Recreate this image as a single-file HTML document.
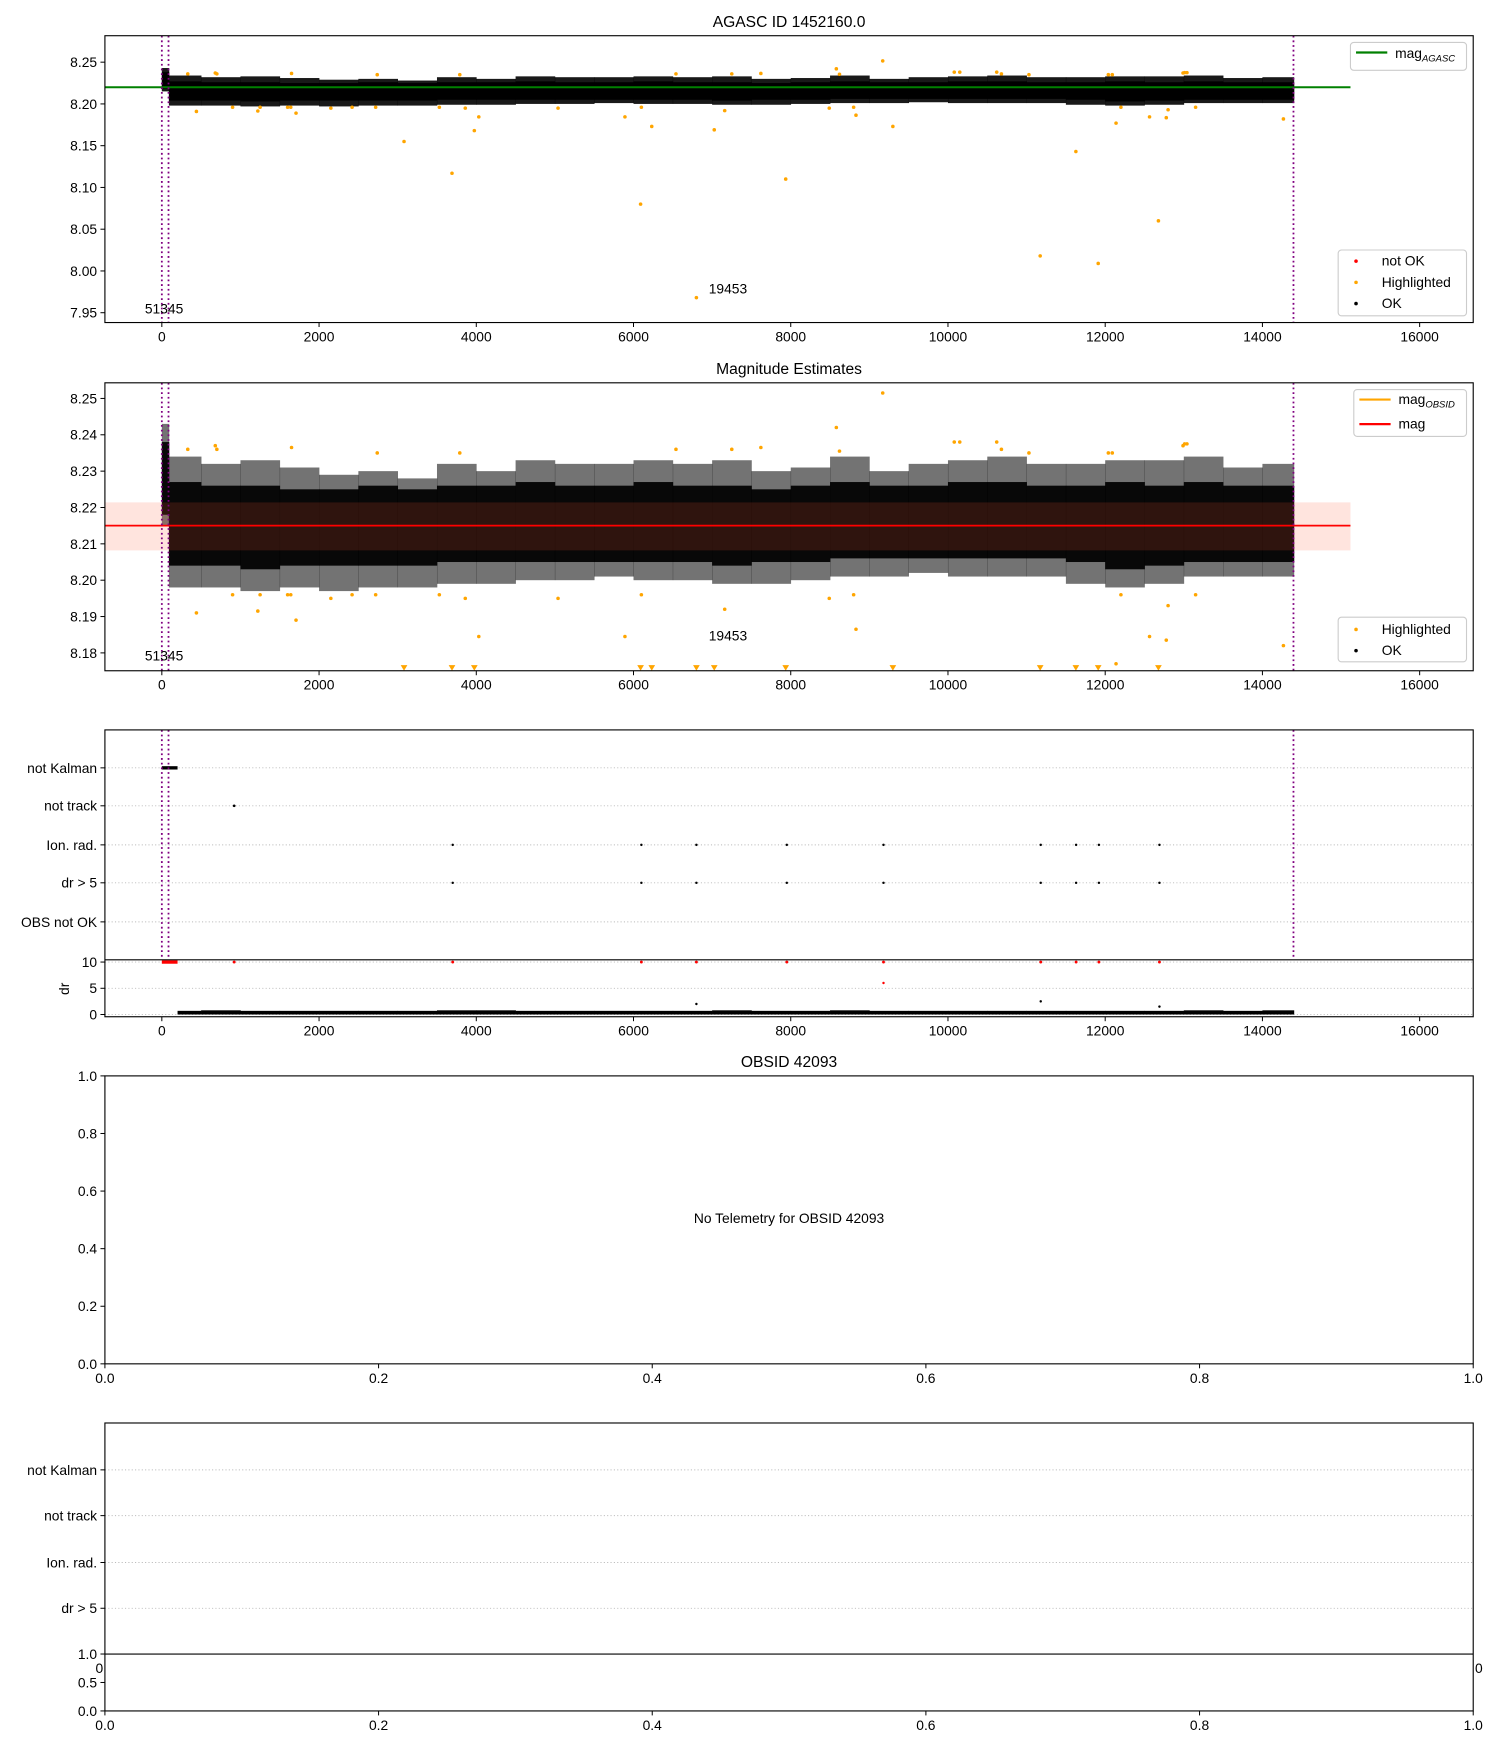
<!DOCTYPE html>
<html><head><meta charset="utf-8"><title>AGASC ID 1452160.0</title>
<style>
html,body{margin:0;padding:0;background:#fff;}
svg{display:block;font-family:"Liberation Sans","DejaVu Sans",sans-serif;}
</style></head>
<body>
<svg id="fig" width="1500" height="1750" viewBox="0 0 1344 1568" preserveAspectRatio="none" xmlns="http://www.w3.org/2000/svg">
<defs>
<clipPath id="c1"><rect x="94" y="32" width="1226" height="257"/></clipPath>
<clipPath id="c2"><rect x="94" y="343" width="1226" height="258"/></clipPath>
<clipPath id="c3"><rect x="94" y="654" width="1226" height="206"/></clipPath>
<clipPath id="c3b"><rect x="94" y="860" width="1226" height="51"/></clipPath>
</defs>
<g id="root"></g>
</svg>
<script>
// ---- data ----
const binX = [0,90,500,1000,1500,2000,2500,3000,3500,4000,4500,5000,5500,6000,6500,7000,7500,8000,8500,9000,9500,10000,10500,11000,11500,12000,12500,13000,13500,14000];
const binEndLast = 14400;
const hiOuter = [8.243,8.234,8.232,8.233,8.231,8.229,8.230,8.228,8.232,8.230,8.233,8.232,8.232,8.233,8.232,8.233,8.230,8.231,8.234,8.230,8.232,8.233,8.234,8.232,8.232,8.233,8.233,8.234,8.231,8.232];
const loOuter = [8.215,8.198,8.198,8.197,8.198,8.197,8.198,8.198,8.199,8.199,8.200,8.200,8.201,8.200,8.200,8.199,8.199,8.200,8.201,8.201,8.202,8.201,8.201,8.201,8.199,8.198,8.199,8.201,8.201,8.201];
const hiCore = [8.238,8.227,8.226,8.226,8.225,8.225,8.226,8.225,8.226,8.226,8.227,8.226,8.226,8.227,8.226,8.226,8.225,8.226,8.227,8.226,8.226,8.227,8.227,8.226,8.226,8.227,8.226,8.227,8.226,8.226];
const loCore = [8.218,8.204,8.204,8.203,8.204,8.204,8.204,8.204,8.205,8.205,8.205,8.205,8.205,8.205,8.205,8.204,8.205,8.205,8.206,8.206,8.206,8.206,8.206,8.206,8.205,8.203,8.204,8.205,8.205,8.205];
const drHi = [0.6,0.7,0.8,0.7,0.7,0.7,0.7,0.7,0.8,0.8,0.7,0.7,0.7,0.7,0.7,0.8,0.7,0.7,0.8,0.7,0.7,0.7,0.7,0.7,0.7,0.7,0.7,0.8,0.7,0.8];
const hlX = [440,1221,1707,3081,3691,3975,4032,5891,6090,6232,6800,7027,7936,8830,9170,9299,11173,11627,11911,12138,12564,12677,12777,14267,
 330,680,700,1650,2740,3790,6540,7250,7620,8580,8620,10080,10150,10620,10680,11030,12040,12090,12990,13010,13040,
 900,1250,1600,1640,2150,2420,2720,3530,3860,5040,6100,7160,8490,8800,12200,12800,13150];
const hlMag = [8.191,8.1915,8.189,8.155,8.117,8.168,8.1845,8.1845,8.080,8.173,7.968,8.169,8.110,8.1865,8.2515,8.173,8.018,8.143,8.009,8.177,8.1845,8.060,8.1835,8.182,
 8.236,8.237,8.236,8.2365,8.235,8.235,8.236,8.236,8.2365,8.242,8.2355,8.238,8.238,8.238,8.236,8.235,8.235,8.235,8.237,8.2375,8.2375,
 8.196,8.196,8.196,8.196,8.195,8.196,8.196,8.196,8.195,8.195,8.196,8.192,8.195,8.196,8.196,8.193,8.196];
const magAgasc = 8.22;
const magMean = 8.2150;
const magBand = [8.2082, 8.2214];
const lineEnd = 15120;
const obsBounds = [0, 85, 14395];
const flagCats = ["not Kalman","not track","Ion. rad.","dr > 5","OBS not OK"];
const flagCats2 = ["not Kalman","not track","Ion. rad.","dr > 5"];
const kalmanRange = [0, 200];
const notTrackX = [920];
const ionX = [3700,6100,6800,7950,9180,11180,11630,11920,12690];
const drBigX = [3700,6100,6800,7950,9180,11180,11630,11920,12690];
const drOutX = [6800,9180,11180,12690];
const drOutV = [2.0,6.0,2.5,1.5];
const xTicks = [0,2000,4000,6000,8000,10000,12000,14000,16000];
const y1Ticks = [7.95,8.00,8.05,8.10,8.15,8.20,8.25];
const y2Ticks = [8.18,8.19,8.20,8.21,8.22,8.23,8.24,8.25];
const unitTicks = [0.0,0.2,0.4,0.6,0.8,1.0];

// ---- scales ----
const L = 94, R = 1320;
const sx = v => 145 + v * 0.070438;
const sy1 = v => 55.7 + (8.25 - v) * 748.3;
const sy2 = v => 357 + (8.25 - v) * 3257;
const sdr = v => 909 - v * 4.7;
const FS = 12.4;
const NS = "http://www.w3.org/2000/svg";
const root = document.getElementById('root');
function mk(tag, attrs, parent, text) {
  const e = document.createElementNS(NS, tag);
  for (const k in attrs) e.setAttribute(k, attrs[k]);
  if (text !== undefined) e.textContent = text;
  (parent || root).appendChild(e);
  return e;
}
function binEnd(i){ return i + 1 < binX.length ? binX[i+1] : binEndLast; }

function frame(top, bot, name) {
  const f = mk('rect', {x:L, y:top, width:R-L, height:bot-top, fill:'none', stroke:'#000', 'stroke-width':1});
  
  
}
function xAxis(bot, ticks, fmt, scale, name) {
  const g = mk('g', {});
  
  
  ticks.forEach(t => {
    const x = scale(t);
    mk('line', {x1:x, x2:x, y1:bot, y2:bot+4, stroke:'#000', 'stroke-width':0.9}, g);
    const tx = mk('text', {x:x, y:bot+17, 'font-size':FS, 'text-anchor':'middle', fill:'#000'}, g, fmt(t));
    
    
  });
}
function yAxis(ticks, scale, fmt, name) {
  const g = mk('g', {});
  
  
  ticks.forEach(t => {
    const y = scale(t);
    mk('line', {x1:L-4, x2:L, y1:y, y2:y, stroke:'#000', 'stroke-width':0.9}, g);
    const tx = mk('text', {x:L-7, y:y+4.4, 'font-size':FS, 'text-anchor':'end', fill:'#000'}, g, fmt(t));
    
    
  });
}
function title(y, s, name) {
  const t = mk('text', {x:707, y:y, 'font-size':14, 'text-anchor':'middle', fill:'#000'}, root, s);
  
  
}
function vlines(clip, top, bot) {
  obsBounds.forEach(b => {
    const l = mk('line', {x1:sx(b), x2:sx(b), y1:top, y2:bot, stroke:'#800080', 'stroke-width':1.6, 'stroke-dasharray':'1.6,2.6', 'clip-path':clip});
    
    
  });
}
function cloud(sy, clip, outerOp, coreOp, name) {
  const g = mk('g', {'clip-path':clip});
  
  
  binX.forEach((b, i) => {
    const x0 = sx(b), x1 = sx(binEnd(i));
    const o = mk('rect', {x:x0, y:sy(hiOuter[i]), width:x1-x0+0.3, height:sy(loOuter[i])-sy(hiOuter[i]), fill:'#000', 'fill-opacity':outerOp}, g);
    
    
    const c = mk('rect', {x:x0, y:sy(hiCore[i]), width:x1-x0+0.3, height:sy(loCore[i])-sy(hiCore[i]), fill:'#000', 'fill-opacity':coreOp}, g);
    
    
  });
}
function highlighted(sy, clip, ymin, bot) {
  const g = mk('g', {'clip-path':clip});
  
  
  hlX.forEach((x, i) => {
    if (ymin !== null && hlMag[i] < ymin) {
      const px = sx(x);
      const p = mk('path', {d:`M${px-3},${bot-5}L${px+3},${bot-5}L${px},${bot}Z`, fill:'#ffa500'}, g);
      
      
    } else {
      const c = mk('circle', {cx:sx(x), cy:sy(hlMag[i]), r:1.6, fill:'#ffa500'}, g);
      
      
    }
  });
}
function legendBox(x, y, w, h, name) {
  const r = mk('rect', {x:x, y:y, width:w, height:h, rx:3, fill:'#fff', 'fill-opacity':0.85, stroke:'#ccc', 'stroke-width':1});
  
  
}
function legText(x, y, s, sub) {
  const t = mk('text', {x:x, y:y, 'font-size':FS, fill:'#000'}, root, s);
  if (sub) { mk('tspan', {'font-size':8.5, 'font-style':'italic', dy:3}, t, sub); }
  
  
}
function legDot(x, y, col) {
  const c = mk('circle', {cx:x, cy:y, r:1.6, fill:col});
  
  
}
function legLine(x, y, col) {
  const l = mk('line', {x1:x, x2:x+28, y1:y, y2:y, stroke:col, 'stroke-width':2});
  
  
}
function label(x, y, s, name, anchor) {
  const t = mk('text', {x:x, y:y, 'font-size':FS, 'text-anchor':anchor||'start', fill:'#000'}, root, s);
  
  
}

// ---- panel 1 ----
title(24, 'AGASC ID 1452160.0', 'panel1-title');
cloud(sy1, 'url(#c1)', 0.9, 1, 'panel1-ok-points');
highlighted(sy1, 'url(#c1)', null, 289);
const g1 = mk('line', {x1:sx(-724), x2:sx(lineEnd), y1:sy1(magAgasc), y2:sy1(magAgasc), stroke:'#008000', 'stroke-width':1.8, 'clip-path':'url(#c1)'});


vlines('url(#c1)', 32, 289);
label(147, 281, '51345', 'obsid-label', 'middle');
label(635, 263, '19453', 'obsid-label');
frame(32, 289, 'panel1-axes');
xAxis(289, xTicks, t => String(t), sx, 'panel1-x-axis');
yAxis(y1Ticks, sy1, t => t.toFixed(2), 'panel1-y-axis');
legendBox(1210, 38, 104, 25, 'panel1-legend-top');
legLine(1215, 47, '#008000'); legText(1250, 52, 'mag', 'AGASC');
legendBox(1199, 224, 115, 59, 'panel1-legend-bottom');
legDot(1215, 234, '#ff0000'); legText(1238, 238, 'not OK');
legDot(1215, 253, '#ffa500'); legText(1238, 257, 'Highlighted');
legDot(1215, 272, '#000'); legText(1238, 276, 'OK');

// ---- panel 2 ----
title(335, 'Magnitude Estimates', 'panel2-title');
cloud(sy2, 'url(#c2)', 0.55, 0.93, 'panel2-ok-points');
highlighted(sy2, 'url(#c2)', 8.1751, 601);
const band = mk('rect', {x:sx(-724), y:sy2(magBand[1]), width:sx(lineEnd)-sx(-724), height:sy2(magBand[0])-sy2(magBand[1]), fill:'#ff5a30', 'fill-opacity':0.16, 'clip-path':'url(#c2)'});


const rl = mk('line', {x1:sx(-724), x2:sx(lineEnd), y1:sy2(magMean), y2:sy2(magMean), stroke:'#ff0000', 'stroke-width':1.6, 'clip-path':'url(#c2)'});


vlines('url(#c2)', 343, 601);
label(147, 592, '51345', 'obsid-label', 'middle');
label(635, 574, '19453', 'obsid-label');
frame(343, 601, 'panel2-axes');
xAxis(601, xTicks, t => String(t), sx, 'panel2-x-axis');
yAxis(y2Ticks, sy2, t => t.toFixed(2), 'panel2-y-axis');
legendBox(1213, 349, 101, 42, 'panel2-legend-top');
legLine(1218, 358, '#ffa500'); legText(1253, 362, 'mag', 'OBSID');
legLine(1218, 380, '#ff0000'); legText(1253, 384, 'mag');
legendBox(1199, 553, 115, 40, 'panel2-legend-bottom');
legDot(1215, 564, '#ffa500'); legText(1238, 568, 'Highlighted');
legDot(1215, 583, '#000'); legText(1238, 587, 'OK');

// ---- panel 3 ----
const catY = [688, 722, 757, 791, 826];
flagCats.forEach((c, i) => {
  const gl = mk('line', {x1:L, x2:R, y1:catY[i], y2:catY[i], stroke:'#bbb', 'stroke-width':0.8, 'stroke-dasharray':'1,2'});
  
  
});
const k = mk('rect', {x:sx(kalmanRange[0]), y:catY[0]-1.5, width:sx(kalmanRange[1])-sx(kalmanRange[0]), height:3, fill:'#000'});


notTrackX.forEach(x => {
  const c = mk('circle', {cx:sx(x), cy:catY[1], r:1.2, fill:'#000'});
  
  
});
ionX.forEach(x => {
  const c = mk('circle', {cx:sx(x), cy:catY[2], r:1.1, fill:'#000'});
  
  
});
drBigX.forEach(x => {
  const c = mk('circle', {cx:sx(x), cy:catY[3], r:1.1, fill:'#000'});
  
  
});
[0,5,10].forEach(v => {
  const gl = mk('line', {x1:L, x2:R, y1:sdr(v), y2:sdr(v), stroke:'#bbb', 'stroke-width':0.8, 'stroke-dasharray':'1,2'});
  
  
});
const drg = mk('g', {'clip-path':'url(#c3b)'});


binX.forEach((b, i) => {
  if (i === 0) return;
  const x0 = sx(Math.max(b, 200)), x1 = sx(binEnd(i));
  const r = mk('rect', {x:x0, y:sdr(drHi[i]), width:x1-x0+0.3, height:sdr(0)-sdr(drHi[i]), fill:'#000'}, drg);
  
  
});
drOutX.forEach((x, i) => {
  const c = mk('circle', {cx:sx(x), cy:sdr(drOutV[i]), r:1.1, fill: drOutV[i] > 5 ? '#ff0000' : '#000'}, drg);
  
  
});
const kr = mk('rect', {x:sx(kalmanRange[0]), y:sdr(10)-1.5, width:sx(kalmanRange[1])-sx(kalmanRange[0]), height:3, fill:'#ff0000'});


notTrackX.concat(drBigX).forEach(x => {
  const c = mk('circle', {cx:sx(x), cy:sdr(10), r:1.3, fill:'#ff0000'});
  
  
});
vlines('url(#c3)', 654, 911);
const sep = mk('line', {x1:L, x2:R, y1:860, y2:860, stroke:'#000', 'stroke-width':1});


frame(654, 911, 'panel3-axes');
xAxis(911, xTicks, t => String(t), sx, 'panel3-x-axis');
yAxis(flagCats, (c) => catY[flagCats.indexOf(c)], c => c, 'panel3-flag-axis');
yAxis([0,5,10], sdr, t => String(t), 'dr-y-axis');
const drl = mk('text', {x:0, y:0, 'font-size':FS, 'text-anchor':'middle', transform:'translate(62,886) rotate(-90)'}, root, 'dr');



// ---- panel 4 ----
title(956, 'OBSID 42093', 'panel4-title');
const su = (top, bot) => v => bot - v * (bot - top);
const sxu = v => L + v * (R - L);
frame(964, 1222, 'panel4-axes');
xAxis(1222, unitTicks, t => t.toFixed(1), sxu, 'panel4-x-axis');
yAxis(unitTicks, su(964, 1222), t => t.toFixed(1), 'panel4-y-axis');
label(707, 1096, 'No Telemetry for OBSID 42093', 'no-telemetry-message', 'middle');

// ---- panel 5 ----
const cat5Y = [1317, 1358, 1400, 1441];
flagCats2.forEach((c, i) => {
  const gl = mk('line', {x1:L, x2:R, y1:cat5Y[i], y2:cat5Y[i], stroke:'#bbb', 'stroke-width':0.8, 'stroke-dasharray':'1,2'});
  
  
});
label(89, 1499, '0', 'hidden-x-tick-label', 'middle');
label(1325, 1499, '0', 'hidden-x-tick-label', 'middle');
frame(1275, 1533, 'panel5-axes');
const sep5 = mk('line', {x1:L, x2:R, y1:1482, y2:1482, stroke:'#000', 'stroke-width':1});


yAxis(flagCats2, (c) => cat5Y[flagCats2.indexOf(c)], c => c, 'panel5-flag-axis');
yAxis([0,0.5,1.0], su(1482, 1533), t => t.toFixed(1), 'panel5-lower-y-axis');
xAxis(1533, unitTicks, t => t.toFixed(1), sxu, 'panel5-x-axis');
</script>
</body></html>
